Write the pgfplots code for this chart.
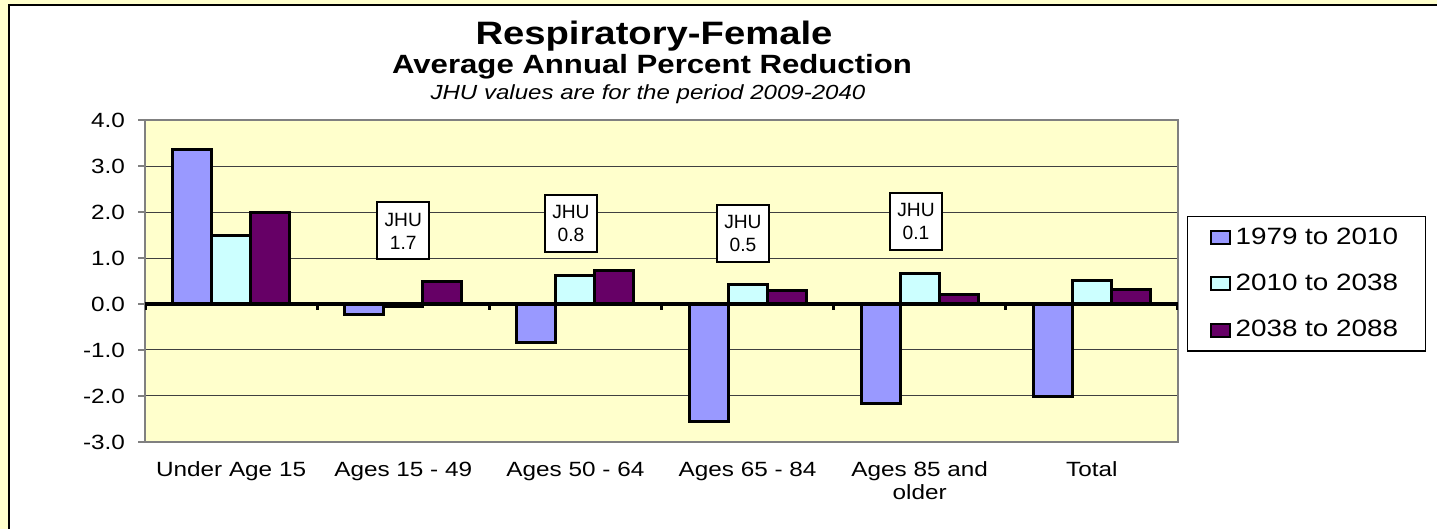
\documentclass[border=0pt]{standalone}
\usepackage{pgfplots}
\pgfplotsset{compat=1.18}
\usepackage{fontspec}
\setmainfont{Liberation Sans}[FakeStretch=1.18]
\newfontfamily\plainfont{Liberation Sans}
\definecolor{bgyellow}{HTML}{FFFFCC}
\definecolor{plotbg}{HTML}{FFFFCC}
\definecolor{cblue}{HTML}{9999FF}
\definecolor{ccyan}{HTML}{CCFFFF}
\definecolor{cpurple}{HTML}{660066}
\begin{document}
\begin{tikzpicture}
\useasboundingbox (0,0) rectangle (718.5pt,-264.5pt);
\fill[bgyellow] (0,0) rectangle (718.5pt,-264.5pt);
\fill[white] (4.5pt,-2.5pt) rectangle (718.5pt,-264.5pt);
\draw[black, line width=0.7pt] (4.5pt,-264.5pt) -- (4.5pt,-2.5pt) -- (718.5pt,-2.5pt);
\node[font=\bfseries\fontsize{16.2}{18}\selectfont, anchor=base, inner sep=0pt] at (327pt,-22.5pt) {Respiratory-Female};
\node[font=\bfseries\fontsize{13.2}{15}\selectfont, anchor=base, inner sep=0pt] at (326pt,-37pt) {Average Annual Percent Reduction};
\node[font=\itshape\fontsize{10.2}{12}\selectfont, anchor=base, inner sep=0pt] at (324pt,-50pt) {JHU values are for the period 2009-2040};
\begin{axis}[
  at={(72.5pt,-221pt)}, anchor=south west,
  width=516.5pt, height=161pt, scale only axis,
  ybar=0pt, bar width=19.5pt,
  xmin=-0.5, xmax=5.5, ymin=-3, ymax=4,
  xtick={0,...,5},
  xticklabels={Under Age 15, Ages 15 - 49, Ages 50 - 64, Ages 65 - 84, {Ages 85 and\\older}, Total},
  xticklabel style={align=center, font=\fontsize{10.3}{11.5}\selectfont, yshift=-3pt},
  x tick style={draw=none},
  ytick={-3,...,4},
  yticklabels={-3.0,-2.0,-1.0,0.0,1.0,2.0,3.0,4.0},
  yticklabel style={font=\fontsize{10.3}{11.5}\selectfont, xshift=-3pt},
  y tick style={draw=gray, line width=0.8pt},
  tick align=outside, major tick length=3.5pt,
  ytick pos=left,
  ymajorgrids, major grid style={black!75, line width=0.5pt},
  axis line style={draw=gray, line width=1pt},
  axis background/.style={fill=plotbg},
  legend image code/.code={\draw[#1, draw=black, line width=1pt] (0pt,-3.3pt) rectangle (9.5pt,3.3pt);},
  legend style={at={(1.0087,0.702)}, anchor=north west, draw=black, line width=0.6pt, fill=white,
    font=\fontsize{11.8}{13}\selectfont, inner xsep=11pt, inner ysep=4.5pt, row sep=11.5pt,
    nodes={inner ysep=1pt, inner xsep=2.5pt}, cells={anchor=west}},
]
\addplot[fill=cblue, draw=black, line width=1.5pt] coordinates {(0,3.36) (1,-0.22) (2,-0.83) (3,-2.56) (4,-2.17) (5,-2.02)};
\addplot[fill=ccyan, draw=black, line width=1.5pt] coordinates {(0,1.48) (1,-0.05) (2,0.63) (3,0.43) (4,0.67) (5,0.51)};
\addplot[fill=cpurple, draw=black, line width=1.5pt] coordinates {(0,2.0) (1,0.5) (2,0.72) (3,0.3) (4,0.2) (5,0.32)};
\legend{1979 to 2010, 2010 to 2038, 2038 to 2088}
\draw[black, line width=2.2pt] (axis cs:-0.5,0) -- (axis cs:5.5,0);
\pgfplotsinvokeforeach{-0.5,0.5,1.5,2.5,3.5,4.5,5.5}{\draw[black, line width=1.5pt] (axis cs:#1,0) -- ++(0pt,-3pt);}
\node[draw=black, line width=1pt, fill=white, align=center, minimum width=26pt, minimum height=28.5pt, inner sep=1pt, font=\plainfont\fontsize{9.6}{11.5}\selectfont] at (axis cs:1.0,1.587) {JHU\\1.7};
\node[draw=black, line width=1pt, fill=white, align=center, minimum width=26pt, minimum height=28.5pt, inner sep=1pt, font=\plainfont\fontsize{9.6}{11.5}\selectfont] at (axis cs:1.974,1.75) {JHU\\0.8};
\node[draw=black, line width=1pt, fill=white, align=center, minimum width=26pt, minimum height=28.5pt, inner sep=1pt, font=\plainfont\fontsize{9.6}{11.5}\selectfont] at (axis cs:2.973,1.543) {JHU\\0.5};
\node[draw=black, line width=1pt, fill=white, align=center, minimum width=26pt, minimum height=28.5pt, inner sep=1pt, font=\plainfont\fontsize{9.6}{11.5}\selectfont] at (axis cs:3.978,1.783) {JHU\\0.1};
\end{axis}
\end{tikzpicture}
\end{document}
